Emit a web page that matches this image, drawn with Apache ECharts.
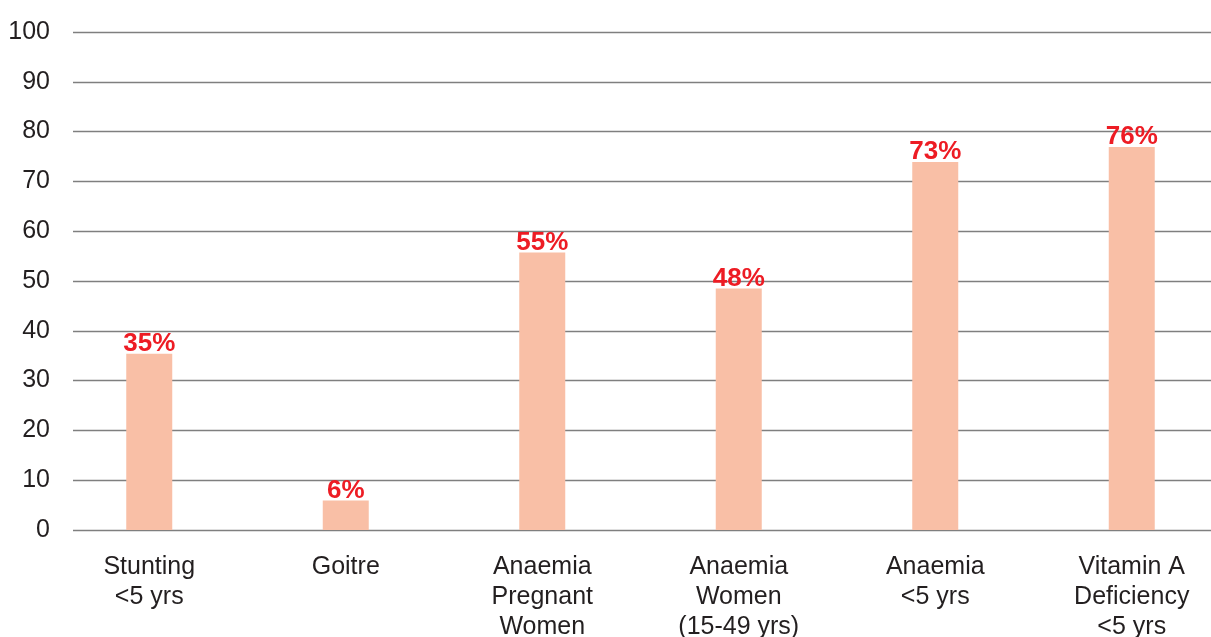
<!DOCTYPE html>
<html>
<head>
<meta charset="utf-8">
<script src="https://cdn.jsdelivr.net/npm/echarts@6/dist/echarts.min.js"></script>
<style>
html,body{margin:0;padding:0;background:#fff;}
#chart{width:1211px;height:637px;}
</style>
</head>
<body>
<div id="chart"></div>
<script>
const categories = ["Stunting\n<5 yrs", "Goitre", "Anaemia\nPregnant\nWomen", "Anaemia\nWomen\n(15-49 yrs)", "Anaemia\n<5 yrs", "Vitamin A\nDeficiency\n<5 yrs"];
const values = [35.4, 5.9, 55.7, 48.5, 73.9, 76.9];
const valueLabels = ["35%", "6%", "55%", "48%", "73%", "76%"];

const chart = echarts.init(document.getElementById('chart'), null, {renderer: 'canvas'});
const font = "'Liberation Sans', Arial, sans-serif";
chart.setOption({
  animation: false,
  backgroundColor: '#ffffff',
  textStyle: {fontFamily: font},
  grid: [
    {left: 73, width: 1138, top: 32, height: 498, outerBoundsMode: 'none', containLabel: false},
    {left: 51, width: 1179, top: 32, height: 498, outerBoundsMode: 'none', containLabel: false}
  ],
  xAxis: [
    {type: 'value', gridIndex: 0, min: 0, max: 1, show: false},
    {type: 'category', gridIndex: 1, data: categories,
     axisLine: {show: false}, axisTick: {show: false},
     axisLabel: {color: '#231F20', fontSize: 25, lineHeight: 30, margin: 22, fontFamily: font, interval: 0, hideOverlap: false}}
  ],
  yAxis: [
    {type: 'value', gridIndex: 0, min: 0, max: 100, interval: 10,
     axisLine: {show: false}, axisTick: {show: false},
     axisLabel: {color: '#231F20', fontSize: 25, margin: 23, fontFamily: font},
     splitLine: {show: true, lineStyle: {color: '#7f7f7f', width: 1.3}}},
    {type: 'value', gridIndex: 1, min: 0, max: 100, show: false, splitLine: {show: false}}
  ],
  series: [{
    type: 'bar',
    xAxisIndex: 1,
    yAxisIndex: 1,
    data: values,
    barWidth: 46,
    itemStyle: {color: '#F9BFA6'},
    label: {
      show: true,
      position: 'top',
      distance: -3,
      color: '#ED1C24',
      fontWeight: 'bold',
      fontSize: 26,
      fontFamily: font,
      formatter: p => valueLabels[p.dataIndex]
    }
  }]
});
</script>
</body>
</html>
